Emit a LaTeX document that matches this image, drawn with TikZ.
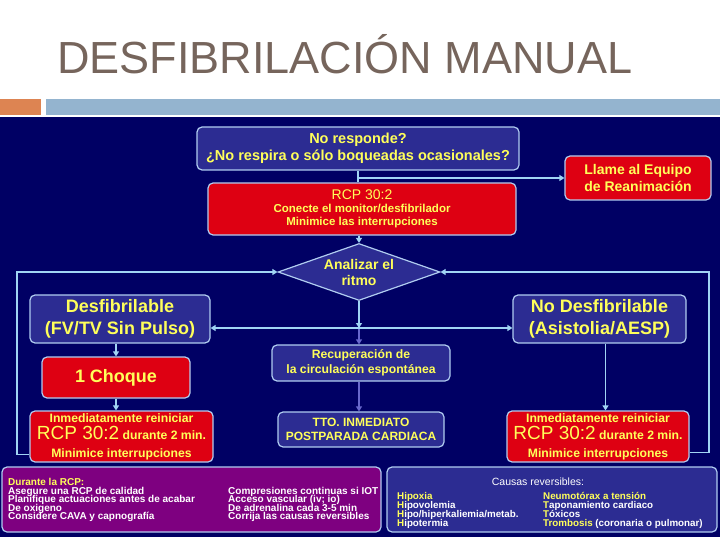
\documentclass[tikz,border=0pt]{standalone}
\usepackage{fontspec}
\setmainfont{Liberation Sans}
\usetikzlibrary{arrows.meta,positioning,calc,shapes.geometric}
\definecolor{navy}{RGB}{0,0,100}
\definecolor{boxblue}{RGB}{44,44,146}
\definecolor{boxred}{RGB}{222,0,18}
\definecolor{boxpurple}{RGB}{126,0,128}
\definecolor{edgeblue}{RGB}{176,204,240}
\definecolor{lineblue}{RGB}{160,212,244}
\definecolor{lavender}{RGB}{104,104,204}
\definecolor{txtyellow}{RGB}{255,255,90}
\definecolor{titlegray}{RGB}{118,101,92}
\definecolor{barorange}{RGB}{221,132,82}
\definecolor{barblue}{RGB}{148,180,207}
\newcommand{\tightlines}{\lineskiplimit=-20pt\relax}

\begin{document}
\begin{tikzpicture}[x=1pt,y=-1pt,
    box/.style={rectangle,draw=edgeblue,line width=1.2pt,fill=boxblue,rounded corners=5pt,
      align=center,text=txtyellow,inner sep=0pt},
    redbox/.style={box,fill=boxred},
    small/.style={inner sep=0pt,align=left,text=white,
      font=\fontsize{10}{8.5}\selectfont\bfseries\tightlines},
    a/.style={-{Triangle[length=5pt,width=6pt]},lineblue,line width=1.6pt},
    la/.style={-{Triangle[length=5pt,width=6pt]},lavender,line width=1.6pt}]
    \useasboundingbox (0,0) rectangle (720,540);
    % slide header
    \node[anchor=base west,inner sep=0pt,text=titlegray,font=\fontsize{45}{45}\selectfont] (title) at (57,74) {DESFIBRILACIÓN MANUAL};
    \fill[barorange] (0,99) rectangle (41,115);
    \fill[barblue] (46,99) rectangle (720,115);
    \fill[navy] (0,117) rectangle (720,537);
    % flow
    \node[box,minimum width=322pt,minimum height=43pt,font=\fontsize{14.5}{16.5}\selectfont\bfseries] (nresp) at (358,148.5)
      {No responde?\\¿No respira o sólo boqueadas ocasionales?};
    \node[redbox,minimum width=308pt,minimum height=52pt,font=\fontsize{11.5}{13}\selectfont\bfseries] (rcp) at (362,209)
      {{\fontsize{14}{14}\selectfont\mdseries RCP 30:2}\\Conecte el monitor/desfibrilador\\Minimice las interrupciones};
    \node[redbox,minimum width=146pt,minimum height=44pt,font=\fontsize{14}{17}\selectfont\bfseries] (llame) at (638,178)
      {Llame al Equipo\\de Reanimación};
    \node[diamond,draw=edgeblue,line width=1.2pt,fill=boxblue,text=txtyellow,align=center,inner sep=0pt,aspect=3.2,
      minimum width=162pt,minimum height=57pt,font=\fontsize{14}{16}\selectfont\bfseries] (diam) at (359,272)
      {Analizar el\\ritmo};
    \node[box,minimum width=180pt,minimum height=48pt,font=\fontsize{18}{22}\selectfont\bfseries] (desf) at (120,319)
      {Desfibrilable\\(FV/TV Sin Pulso)};
    \node[box,minimum width=173pt,minimum height=48pt,font=\fontsize{18}{22}\selectfont\bfseries] (nodesf) at (599.5,319)
      {No Desfibrilable\\(Asistolia/AESP)};
    \node[redbox,minimum width=148pt,minimum height=41pt,font=\fontsize{18}{22}\selectfont\bfseries] (choque) at (116,377.5)
      {1 Choque};
    \node[box,minimum width=178pt,minimum height=36pt,font=\fontsize{12.2}{15}\selectfont\bfseries] (rosc) at (361,363)
      {Recuperación de\\la circulación espontánea};
    \node[box,minimum width=166pt,minimum height=35pt,font=\fontsize{12}{14.5}\selectfont\bfseries] (tto) at (361,429.5)
      {TTO. INMEDIATO\\POSTPARADA CARDIACA};
    \node[redbox,minimum width=183pt,minimum height=51pt,font=\fontsize{12.2}{17.5}\selectfont\bfseries] (rcpL) at (121.5,436.5)
      {Inmediatamente reiniciar\\{\fontsize{19}{19}\selectfont\mdseries RCP 30:2} durante 2 min.\\Minimice interrupciones};
    \node[redbox,minimum width=182pt,minimum height=51pt,font=\fontsize{12.2}{17.5}\selectfont\bfseries] (rcpR) at (598,436.5)
      {Inmediatamente reiniciar\\{\fontsize{19}{19}\selectfont\mdseries RCP 30:2} durante 2 min.\\Minimice interrupciones};
    % bottom notes
    \node[box,fill=boxpurple,minimum width=379pt,minimum height=65pt] (durante) at (191.5,499.5) {};
    \node[box,minimum width=330pt,minimum height=65pt] (causas) at (552,499.5) {};
    \node[small,anchor=north west] (durL) at (8,478.5)
      {\textcolor{txtyellow}{Durante la RCP:}\\Asegure una RCP de calidad\\Planifique actuaciones antes de acabar\\De oxigeno\\Considere CAVA y capnografía};
    \node[small,anchor=north west] (durR) at (228,487)
      {Compresiones continuas si IOT\\Acceso vascular (iv; io)\\De adrenalina cada 3-5 min\\Corrija las causas reversibles};
    \node[small,font=\fontsize{10.5}{10}\selectfont] (cauhead) at (538,482) {Causas reversibles:};
    \node[small,anchor=north west,font=\fontsize{9.8}{8.8}\selectfont\bfseries\tightlines] (cauL) at (397,492.5)
      {\textcolor{txtyellow}{Hipoxia}\\\textcolor{txtyellow}{H}ipovolemia\\\textcolor{txtyellow}{H}ipo/hiperkaliemia/metab.\\\textcolor{txtyellow}{H}ipotermia};
    \node[small,anchor=north west,font=\fontsize{9.8}{8.8}\selectfont\bfseries\tightlines] (cauR) at (543,492.5)
      {\textcolor{txtyellow}{Neumotórax a tensión}\\\textcolor{txtyellow}{T}aponamiento cardiaco\\\textcolor{txtyellow}{T}óxicos\\\textcolor{txtyellow}{Trombosis} (coronaria o pulmonar)};
    % connectors
    \coordinate (split) at (359,328);
    \coordinate (lcorner) at (17,272);
    \coordinate (rcorner) at (709,272);
    \draw[lineblue,line width=1.6pt] (nresp.south) -- (nresp.south |- rcp.north);
    \draw[a] (nresp.south |- llame.west) -- (llame.west);
    \draw[a] (rcp.south -| diam.north) -- (diam.north);
    \draw[la] (split) -- (split |- rosc.north);
    \draw[la] (rosc.south -| split) -- (split |- tto.north);
    \draw[a] (diam.south) -- (split);
    \draw[a] (split) -- (split -| desf.east);
    \draw[a] (split) -- (split -| nodesf.west);
    \draw[a] (choque.north |- desf.south) -- (choque.north);
    \draw[a] (choque.south) -- (choque.south |- rcpL.north);
    \draw[a] ([xshift=6pt]nodesf.south) -- ([xshift=6pt]nodesf.south |- rcpR.north);
    \draw[a] ([yshift=-18pt]rcpL.west) -| (lcorner) -- (diam.west);
    \draw[a] ([yshift=-16pt]rcpR.east) -| (rcorner) -- (diam.east);
\end{tikzpicture}
\end{document}
